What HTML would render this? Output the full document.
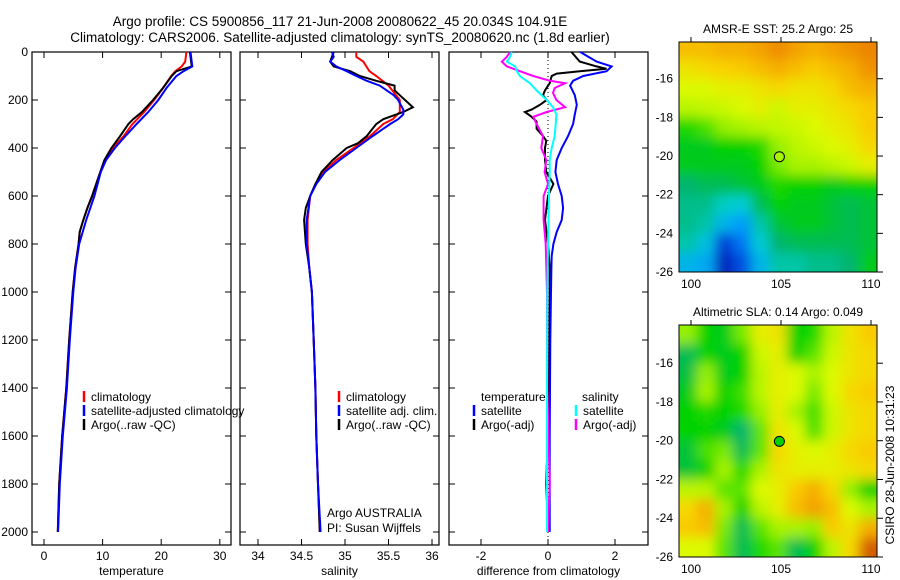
<!DOCTYPE html>
<html><head><meta charset="utf-8"><style>
html,body{margin:0;padding:0;background:#fff;}
svg{display:block;font-family:"Liberation Sans",sans-serif;}
</style></head><body>
<svg id="c" width="900" height="580" viewBox="0 0 900 580">
<text x="340" y="26" font-size="13.5" text-anchor="middle">Argo profile: CS 5900856_117 21-Jun-2008 20080622_45 20.034S 104.91E</text>
<text x="340" y="42" font-size="13.5" text-anchor="middle">Climatology: CARS2006. Satellite-adjusted climatology: synTS_20080620.nc (1.8d earlier)</text>
<g id="plots"></g>
<text transform="translate(894,465) rotate(-90)" font-size="12" text-anchor="middle">CSIRO 28-Jun-2008 10:31:23</text>
</svg>
<script>
// ---- depth axis tick labels
const depthTicks = [0,200,400,600,800,1000,1200,1400,1600,1800,2000];
// ---- temperature panel
const tempTicks = [0,10,20,30];
const tClimD = [0,40,60,80,100,150,200,250,300,350,400,450,500,550,600,650,700,750,800,900,1000,1200,1400,1600,1800,2000];
const tClimV = [24.3,24.1,23.5,22.4,21.7,20.3,18.8,17.1,15.1,13.6,11.8,10.4,9.6,8.9,8.2,7.4,6.7,6.1,5.9,5.3,4.9,4.3,3.8,3.1,2.6,2.35];
const tSatD = [0,60,80,100,150,200,250,300,350,400,450,500,600,700,800,900,1000,1200,1400,1600,1800,2000];
const tSatV = [25.0,25.3,23.8,22.6,20.9,19.5,17.8,15.8,13.9,12.1,10.6,9.7,8.6,7.2,6.0,5.4,5.0,4.4,3.9,3.2,2.7,2.4];
const tArgoD = [0,60,80,100,150,200,250,280,300,350,400,450,500,550,600,650,700,750,800,900,1000,1200,1400,1600,1800,2000];
const tArgoV = [24.9,25.2,22.6,21.8,20.3,18.6,16.7,15.2,14.4,13.0,11.5,10.3,9.6,8.9,8.2,7.4,6.7,6.1,5.9,5.3,4.9,4.3,3.8,3.1,2.6,2.35];
// ---- salinity panel
const salTicks = [34,34.5,35,35.5,36];
const sClimD = [0,20,40,80,100,140,200,250,280,300,350,400,450,500,550,600,700,800,900,1000,1200,1400,1600,1800,2000];
const sClimV = [35.13,35.13,35.21,35.28,35.36,35.5,35.63,35.63,35.55,35.44,35.29,35.1,34.9,34.75,34.66,34.6,34.57,34.57,34.59,34.62,34.64,34.66,34.67,34.69,34.71];
const sSatD = [0,20,40,60,80,100,120,140,160,180,200,240,260,280,300,350,400,450,500,550,600,700,800,1000,1200,1400,1600,1800,2000];
const sSatV = [34.85,34.87,34.83,34.9,35.02,35.13,35.25,35.4,35.48,35.56,35.61,35.67,35.67,35.61,35.52,35.32,35.13,34.94,34.77,34.67,34.6,34.56,34.56,34.62,34.64,34.66,34.67,34.69,34.72];
const sArgoD = [0,40,60,80,100,120,140,160,180,200,230,250,280,300,350,380,400,450,500,550,600,650,700,800,900,1000,1200,1400,1600,1800,2000];
const sArgoV = [34.87,34.83,34.87,35.06,35.17,35.36,35.57,35.57,35.63,35.69,35.78,35.67,35.44,35.36,35.25,35.15,35.02,34.86,34.73,34.66,34.6,34.55,34.53,34.55,34.59,34.62,34.64,34.66,34.67,34.69,34.71];
// ---- difference panel
const diffTicks = [-2,0,2];
const dTSatD = [0,40,60,80,100,120,140,180,220,260,300,350,400,450,500,550,600,650,700,750,800,850,900,1000,1200,1600,2000];
const dTSatV = [0.96,1.45,1.9,1.75,1.05,0.75,0.66,0.8,0.86,0.8,0.75,0.6,0.41,0.26,0.22,0.3,0.41,0.45,0.41,0.26,0.16,0.11,0.1,0.09,0.07,0.05,0.05];
const dTArgoD = [0,40,60,70,80,90,100,130,160,180,200,220,240,250,270,290,320,350,370,400,450,500,550,600,700,800,900,1000,1400,1800,2000];
const dTArgoV = [0.7,0.95,1.45,1.75,0.95,0.26,0.11,0.05,-0.09,-0.15,-0.04,-0.24,-0.49,-0.69,-0.49,-0.34,-0.34,-0.15,-0.05,-0.09,-0.09,-0.05,0.16,0.0,-0.09,0.0,0.05,0.05,0.03,-0.05,0.0];
const dSArgoD = [0,20,40,60,80,100,120,130,150,170,200,230,250,270,300,350,400,450,500,550,600,700,800,1000,1400,1800,2000];
const dSArgoV = [-1.13,-1.23,-1.38,-1.23,-0.84,-0.44,0.06,0.51,0.2,0.15,0.25,0.51,-0.04,-0.44,-0.34,-0.15,-0.2,-0.05,-0.1,0.0,-0.13,-0.13,-0.07,-0.03,-0.02,0.05,0.0];
const dSSatD = [0,20,40,60,80,100,130,160,200,230,260,300,350,400,450,500,600,800,1000,1400,2000];
const dSSatV = [-1.08,-1.13,-1.23,-0.98,-0.93,-0.84,-0.54,-0.34,-0.04,0.15,0.25,0.23,0.2,0.11,0.05,0.05,0.03,0.0,-0.02,-0.03,-0.03];
// ---- maps
const lonTicks = [100,105,110];
const latTicks = [-16,-18,-20,-22,-24,-26];
const mapLons = [99.83,100.83,101.83,102.83,103.83,104.83,105.83,106.83,107.83,108.83,109.83];
const mapLats = [-14.5,-15.5,-16.5,-17.5,-18.5,-19.5,-20.5,-21.5,-22.5,-23.5,-24.5,-25.5];
const sstGrid = [
[.78,.78,.8,.8,.82,.85,.82,.8,.82,.84,.86],
[.72,.74,.75,.76,.78,.8,.78,.76,.78,.8,.84],
[.68,.68,.7,.7,.72,.74,.72,.72,.74,.78,.8],
[.64,.65,.66,.68,.7,.66,.7,.7,.72,.74,.76],
[.52,.55,.6,.62,.64,.65,.66,.68,.7,.72,.76],
[.48,.48,.5,.5,.52,.6,.64,.66,.68,.7,.74],
[.48,.48,.48,.48,.5,.58,.62,.62,.64,.66,.7],
[.42,.44,.44,.46,.48,.52,.5,.5,.48,.5,.5],
[.4,.4,.36,.34,.44,.5,.48,.48,.46,.44,.46],
[.4,.38,.3,.26,.38,.46,.48,.48,.46,.44,.46],
[.38,.32,.16,.22,.34,.42,.44,.44,.44,.44,.46],
[.3,.28,.1,.18,.3,.38,.38,.4,.4,.42,.48]];
const slaGrid = [
[.6,.5,.48,.58,.7,.72,.5,.52,.64,.72,.76],
[.44,.5,.48,.5,.66,.7,.5,.56,.66,.72,.74],
[.45,.6,.48,.5,.64,.7,.68,.62,.68,.72,.74],
[.48,.62,.5,.54,.64,.7,.68,.58,.68,.74,.76],
[.5,.52,.5,.52,.6,.7,.62,.54,.66,.72,.74],
[.5,.5,.48,.42,.56,.72,.68,.55,.66,.72,.74],
[.46,.55,.58,.44,.56,.74,.7,.68,.7,.74,.76],
[.46,.5,.62,.52,.62,.72,.7,.7,.7,.72,.74],
[.64,.64,.56,.56,.68,.7,.76,.8,.74,.6,.5],
[.74,.8,.62,.5,.64,.7,.78,.82,.78,.68,.62],
[.76,.78,.58,.44,.56,.62,.62,.6,.76,.72,.8],
[.68,.68,.56,.44,.52,.56,.44,.5,.64,.74,.92]];
const argoLon = 104.91, argoLat = -20.034;
const sstArgoVal = 0.62, slaArgoVal = 0.5;

const NS='http://www.w3.org/2000/svg';
const root=document.getElementById('plots');
function mk(tag,attrs,parent){const e=document.createElementNS(NS,tag);for(const k in attrs)e.setAttribute(k,attrs[k]);(parent||root).appendChild(e);return e;}
const top0=52, bot=545;
const yD = d => top0 + 0.24*d;

function panel(name,x0,x1,xf,ticks,label,showY){
  const g=mk('g',{});
  
  
  mk('rect',{x:x0,y:top0,width:x1-x0,height:bot-top0,fill:'none',stroke:'#000','stroke-width':1.2},g);
  ticks.forEach(t=>{const x=xf(t);
    mk('line',{x1:x,x2:x,y1:bot,y2:bot-6,stroke:'#000'},g);
    mk('line',{x1:x,x2:x,y1:top0,y2:top0+6,stroke:'#000'},g);
    const tx=mk('text',{x:x,y:bot+15,'font-size':12,'text-anchor':'middle'},g);tx.textContent=String(t);
    
    
  });
  depthTicks.forEach(d=>{const y=yD(d);
    mk('line',{x1:x0,x2:x0+6,y1:y,y2:y,stroke:'#000'},g);
    mk('line',{x1:x1,x2:x1-6,y1:y,y2:y,stroke:'#000'},g);
    if(showY){const tx=mk('text',{x:x0-4,y:y+4,'font-size':12,'text-anchor':'end'},g);tx.textContent=String(d);
      
      }
  });
  const xl=mk('text',{x:(x0+x1)/2,y:bot+30,'font-size':12,'text-anchor':'middle'},g);xl.textContent=label;
  
  
  return g;
}
function series(name,g,D,V,xf,color,w){
  const pts=D.map((d,i)=>xf(V[i]).toFixed(1)+','+yD(d).toFixed(1)).join(' ');
  const p=mk('polyline',{points:pts,fill:'none',stroke:color,'stroke-width':w||2},g);
  
  
}
function legend(g,x,y,color,text,name){
  mk('line',{x1:x,x2:x,y1:y-10,y2:y+1,stroke:color,'stroke-width':2.5},g);
  const t=mk('text',{x:x+7,y:y,'font-size':12},g);t.textContent=text;
  
  
}
// temperature
const xT=v=>44+5.86*v;
const g1=panel('temperature-panel',32,231,xT,tempTicks,'temperature',true);
series('temp-climatology-line',g1,tClimD,tClimV,xT,'#f00');
series('temp-argo-line',g1,tArgoD,tArgoV,xT,'#000');
series('temp-satellite-line',g1,tSatD,tSatV,xT,'#00f');
legend(g1,84,401,'#f00','climatology','legend-climatology');
legend(g1,84,415,'#00f','satellite-adjusted climatology','legend-satellite-adjusted');
legend(g1,84,429,'#000','Argo(..raw -QC)','legend-argo');
// salinity
const xS=v=>258+87*(v-34);
const g2=panel('salinity-panel',240,439,xS,salTicks,'salinity',false);
series('sal-climatology-line',g2,sClimD,sClimV,xS,'#f00');
series('sal-argo-line',g2,sArgoD,sArgoV,xS,'#000');
series('sal-satellite-line',g2,sSatD,sSatV,xS,'#00f');
legend(g2,339,401,'#f00','climatology','legend-sal-climatology');
legend(g2,339,415,'#00f','satellite adj. clim.','legend-sal-satellite');
legend(g2,339,429,'#000','Argo(..raw -QC)','legend-sal-argo');
[['Argo AUSTRALIA',517,'argo-australia-label'],['PI: Susan Wijffels',532,'pi-label']].forEach(a=>{const t=mk('text',{x:327,y:a[1],'font-size':12},g2);t.textContent=a[0];
  
  });
// diff
const xDf=v=>548+33.5*v;
const g3=panel('difference-panel',449,648,xDf,diffTicks,'difference from climatology',false);
mk('line',{x1:xDf(0),x2:xDf(0),y1:top0,y2:bot,stroke:'#000','stroke-dasharray':'1,3'},g3);
series('diff-temp-argo-line',g3,dTArgoD,dTArgoV,xDf,'#000');
series('diff-temp-satellite-line',g3,dTSatD,dTSatV,xDf,'#00f');
series('diff-sal-argo-line',g3,dSArgoD,dSArgoV,xDf,'#f0f');
series('diff-sal-satellite-line',g3,dSSatD,dSSatV,xDf,'#0ff');
{const t=mk('text',{x:481,y:401,'font-size':12},g3);t.textContent='temperature';
 
 
 const s=mk('text',{x:582,y:401,'font-size':12},g3);s.textContent='salinity';
 
 }
legend(g3,474,415,'#00f','satellite','legend-diff-temp-satellite');
legend(g3,474,429,'#000','Argo(-adj)','legend-diff-temp-argo');
legend(g3,576,415,'#0ff','satellite','legend-diff-sal-satellite');
legend(g3,576,429,'#f0f','Argo(-adj)','legend-diff-sal-argo');

// colormap
const stops=[[0,[0,0,140]],[0.15,[0,50,210]],[0.25,[0,150,255]],[0.35,[0,210,210]],[0.42,[0,180,110]],[0.5,[0,210,0]],[0.6,[150,240,0]],[0.68,[220,250,0]],[0.75,[250,210,0]],[0.85,[240,140,0]],[1,[180,40,0]]];
function cmap(v){for(let i=1;i<stops.length;i++){if(v<=stops[i][0]){const a=stops[i-1],b=stops[i],f=(v-a[0])/(b[0]-a[0]);
  return 'rgb('+a[1].map((c,k)=>Math.round(c+f*(b[1][k]-c))).join(',')+')';}}return 'rgb(180,40,0)';}
const defs=mk('defs',{});
const flt=mk('filter',{id:'bl',x:'-10%',y:'-10%',width:'120%',height:'120%'},defs);
mk('feGaussianBlur',{stdDeviation:6},flt);
function map(name,id,y0,y1,latTop,grid,title,av){
  const x0=679,x1=877;
  const xL=lon=>691+18*(lon-100);
  const yL=lat=>y0+(y1-y0)*(latTop-lat)/(latTop+26);
  const g=mk('g',{});
  
  
  const cp=mk('clipPath',{id:id},defs);mk('rect',{x:x0,y:y0,width:x1-x0,height:y1-y0},cp);
  const cg=mk('g',{'clip-path':'url(#'+id+')'},g);
  const bg=mk('g',{filter:'url(#bl)'},cg);
  grid.forEach((row,r)=>row.forEach((v,c)=>{
    let xa=xL(mapLons[c]-0.5),xb=xL(mapLons[c]+0.5),ya=yL(mapLats[r]+0.5),yb=yL(mapLats[r]-0.5);
    if(c==0)xa-=20; if(c==row.length-1)xb+=20; if(r==0)ya-=20; if(r==grid.length-1)yb+=20;
    const e=mk('rect',{x:xa,y:ya,width:xb-xa+0.5,height:yb-ya+0.5,fill:cmap(v)},bg);
    
    
  }));
  const m=mk('circle',{cx:xL(argoLon),cy:yL(argoLat),r:5,fill:cmap(av),stroke:'#000','stroke-width':1},cg);
  
  
  mk('rect',{x:x0,y:y0,width:x1-x0,height:y1-y0,fill:'none',stroke:'#000'},g);
  lonTicks.forEach(l=>{const x=xL(l);mk('line',{x1:x,x2:x,y1:y0,y2:y0-5,stroke:'#000'},g);
    const t=mk('text',{x:x,y:y1+16,'font-size':12,'text-anchor':'middle'},g);t.textContent=String(l);
    
    });
  latTicks.forEach(l=>{const y=yL(l);mk('line',{x1:x1,x2:x1+6,y1:y,y2:y,stroke:'#000'},g);
    const t=mk('text',{x:673,y:y+4,'font-size':12,'text-anchor':'end'},g);t.textContent=String(l);
    
    });
  const tt=mk('text',{x:(x0+x1)/2,y:y0-9,'font-size':12,'text-anchor':'middle'},g);tt.textContent=title;
  
  
}
map('sst-map','clip1',42,272,-14.1,sstGrid,'AMSR-E SST: 25.2 Argo: 25',sstArgoVal);
map('sla-map','clip2',325,557,-14.03,slaGrid,'Altimetric SLA: 0.14 Argo: 0.049',slaArgoVal);
</script>
</body></html>
